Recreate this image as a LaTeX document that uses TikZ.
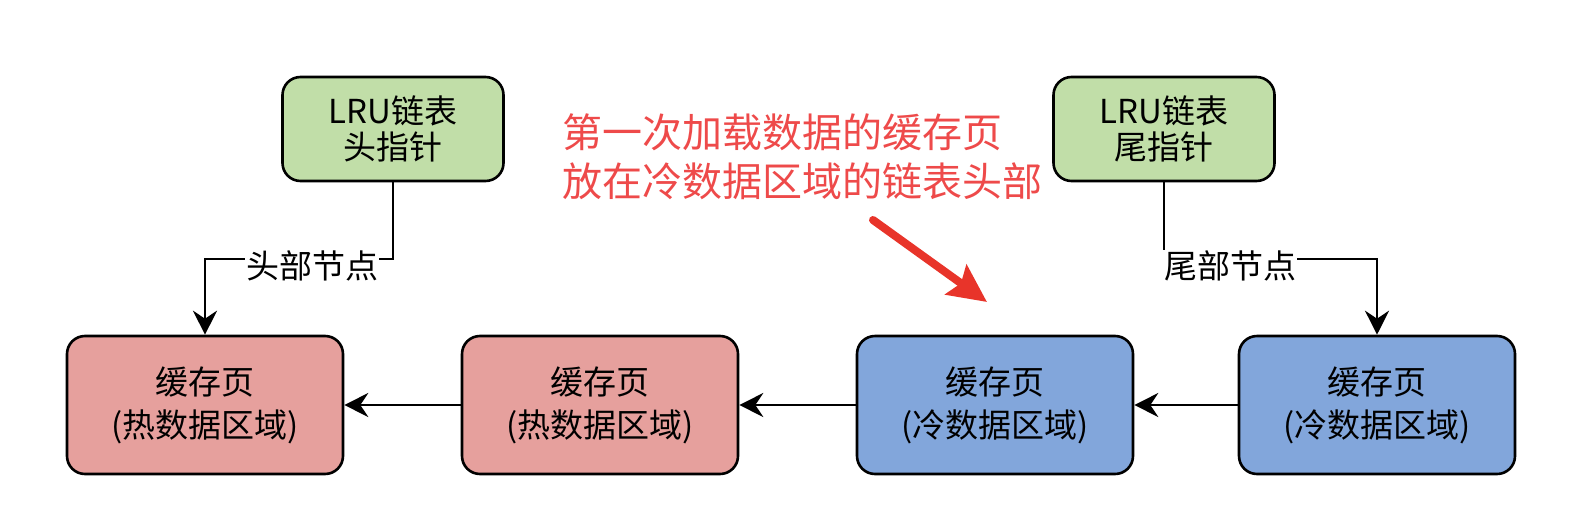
\documentclass[tikz,border=0pt]{standalone}
\usepackage{fontspec}
\setmainfont{Noto Sans CJK SC}
\usetikzlibrary{arrows.meta}
\definecolor{gfill}{HTML}{C1DEA8}
\definecolor{rfill}{HTML}{E6A09D}
\definecolor{bfill}{HTML}{82A6DB}
\definecolor{notered}{HTML}{EE4A4A}
\definecolor{arrowred}{HTML}{E8342A}
\tikzset{
  box/.style={draw=black, line width=2.6pt, rounded corners=18pt, align=center, inner sep=0pt},
  pagebox/.style={box, minimum width=276pt, minimum height=138pt, font=\fontsize{33pt}{43pt}\selectfont},
  ptrbox/.style={box, fill=gfill, minimum width=221pt, minimum height=104pt, font=\fontsize{33pt}{36pt}\selectfont},
  conn/.style={draw=black, line width=2.6pt, -{Stealth[length=24pt, width=24pt, inset=8pt]}},
  edgelabel/.style={fill=white, inner sep=1pt, font=\fontsize{33pt}{36pt}\selectfont},
  note/.style={text=notered, align=left, anchor=west, inner sep=0pt, font=\fontsize{40pt}{49pt}\selectfont},
  bigarrow/.style={draw=arrowred, line width=8pt, line cap=round, -{Stealth[length=38pt, width=36pt, inset=6pt]}}
}
\begin{document}
\begin{tikzpicture}[x=1pt, y=-1pt]
\useasboundingbox (0,0) rectangle (1586,514);
\node[ptrbox] (g1) at (393,129) {LRU链表\\头指针};
\node[ptrbox] (g2) at (1164,129) {LRU链表\\尾指针};
\node[pagebox, fill=rfill] (r1) at (205,405) {缓存页\\(热数据区域)};
\node[pagebox, fill=rfill] (r2) at (600,405) {缓存页\\(热数据区域)};
\node[pagebox, fill=bfill] (b1) at (995,405) {缓存页\\(冷数据区域)};
\node[pagebox, fill=bfill] (b2) at (1377,405) {缓存页\\(冷数据区域)};
\coordinate (hk) at (393,259);
\coordinate (tk) at (1164,259);
\draw[conn] (g1.south) -- (hk) -| (r1.north);
\draw[conn] (g2.south) -- (tk) -| (b2.north);
\node[edgelabel] (hl) at (312,266) {头部节点};
\node[edgelabel] (tl) at (1230,266) {尾部节点};
\draw[conn] (r2.west) -- (r1.east);
\draw[conn] (b1.west) -- (r2.east);
\draw[conn] (b2.west) -- (b1.east);
\node[note] (nt) at (562,157) {第一次加载数据的缓存页\\放在冷数据区域的链表头部};
\coordinate (as) at (873,220);
\coordinate (ae) at (987,302);
\draw[bigarrow] (as) -- (ae);
\end{tikzpicture}
\end{document}
